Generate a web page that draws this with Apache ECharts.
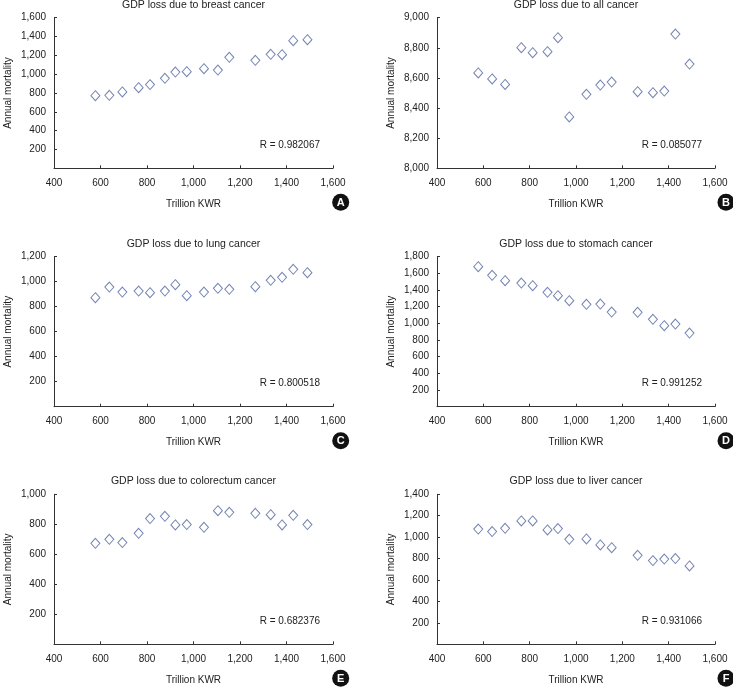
<!DOCTYPE html>
<html>
<head>
<meta charset="utf-8">
<script src="https://cdn.jsdelivr.net/npm/echarts@6/dist/echarts.min.js"></script>
<style>html,body{margin:0;padding:0;background:#fff;}#c{width:733px;height:688px;}</style>
</head>
<body>
<div id="c"></div>
<script>
var gdp = [578, 638, 694, 764, 813, 877, 922, 971, 1045, 1105, 1154, 1266, 1332, 1381, 1429, 1490];
var breast = [772, 775, 811, 857, 889, 956, 1023, 1027, 1058, 1044, 1179, 1147, 1211, 1207, 1356, 1366];
var allCancer = [8633, 8593, 8557, 8801, 8768, 8774, 8867, 8341, 8491, 8553, 8573, 8509, 8502, 8513, 8891, 8692];
var lung = [872, 957, 917, 925, 912, 925, 976, 888, 917, 947, 939, 960, 1011, 1035, 1099, 1072];
var stomach = [1680, 1576, 1512, 1484, 1452, 1372, 1332, 1272, 1228, 1232, 1136, 1132, 1048, 972, 992, 884];
var colorectum = [673, 700, 678, 740, 838, 853, 796, 798, 780, 891, 880, 873, 864, 796, 860, 798];
var liver = [1076, 1052, 1083, 1151, 1151, 1067, 1080, 980, 983, 927, 902, 831, 781, 796, 800, 731];

var titles = ['GDP loss due to breast cancer', 'GDP loss due to all cancer', 'GDP loss due to lung cancer',
  'GDP loss due to stomach cancer', 'GDP loss due to colorectum cancer', 'GDP loss due to liver cancer'];
var rValues = ['R = 0.982067', 'R = 0.085077', 'R = 0.800518', 'R = 0.991252', 'R = 0.682376', 'R = 0.931066'];
var letters = ['A', 'B', 'C', 'D', 'E', 'F'];
var yMins = [0, 8000, 0, 0, 0, 0];
var yMaxs = [1600, 9000, 1200, 1800, 1000, 1400];
var xTicks = [400, 1600, 200];
var seriesData = [breast, allCancer, lung, stomach, colorectum, liver];

var grids = [
  {left: 54, top: 17.7, width: 279, height: 150.6},
  {left: 437, top: 17.7, width: 278, height: 150.6},
  {left: 54, top: 256.7, width: 279, height: 150},
  {left: 437, top: 256.7, width: 278, height: 150},
  {left: 54, top: 494.3, width: 279, height: 150},
  {left: 437, top: 494.3, width: 278, height: 150}
];

var txt = '#222222';
var axisCol = '#333333';
var fnt = 'Liberation Sans, Arial, sans-serif';
function fmt(v){ return Number(v).toLocaleString('en-US'); }

var option = {
  animation: false,
  backgroundColor: '#fff',
  title: [], grid: [], xAxis: [], yAxis: [], series: [], graphic: []
};

for (var i = 0; i < 6; i++) {
  var g = grids[i];
  option.grid.push({left: g.left, top: g.top, width: g.width, height: g.height});
  option.graphic.push({
    type: 'text', x: g.left + g.width / 2, y: g.top - 13,
    style: {text: titles[i], fontSize: 10.5, fill: txt, fontFamily: fnt, align: 'center', verticalAlign: 'middle'}
  });
  option.xAxis.push({
    type: 'value', gridIndex: i, min: xTicks[0], max: xTicks[1], interval: xTicks[2],
    name: 'Trillion KWR', nameLocation: 'middle', nameGap: 31,
    nameTextStyle: {fontSize: 10, color: txt, fontFamily: fnt},
    axisLine: {show: true, lineStyle: {color: axisCol, width: 1}},
    axisTick: {show: true, inside: true, length: 3, lineStyle: {color: axisCol}},
    axisLabel: {fontSize: 10, color: txt, fontFamily: fnt, margin: 10, formatter: fmt, showMinLabel: true, showMaxLabel: true},
    splitLine: {show: false}
  });
  option.yAxis.push({
    type: 'value', gridIndex: i, min: yMins[i], max: yMaxs[i], interval: 200,
    name: 'Annual mortality', nameLocation: 'middle', nameGap: 41,
    nameTextStyle: {fontSize: 10, color: txt, fontFamily: fnt},
    axisLine: {show: true, lineStyle: {color: axisCol, width: 1}},
    axisTick: {show: true, inside: true, length: 3, lineStyle: {color: axisCol}},
    axisLabel: {fontSize: 10, color: txt, fontFamily: fnt, margin: 8,
      formatter: function(v){ return (v === 0) ? '' : fmt(v); }},
    splitLine: {show: false}
  });
  var d = [];
  for (var k = 0; k < gdp.length; k++) d.push([gdp[k], seriesData[i][k]]);
  option.series.push({
    type: 'scatter', xAxisIndex: i, yAxisIndex: i, data: d,
    symbol: 'diamond', symbolSize: [9, 10],
    itemStyle: {color: '#ffffff', borderColor: '#52669f', borderWidth: 1},
    silent: true
  });
  option.graphic.push({
    type: 'text', x: g.left + g.width - 13, y: g.top + g.height - 23.5,
    style: {text: rValues[i], fontSize: 10, fill: txt, fontFamily: fnt, align: 'right', verticalAlign: 'middle'}
  });
  option.graphic.push({
    type: 'circle', shape: {cx: g.left + g.width + (i % 2 === 0 ? 7.7 : 11), cy: g.top + g.height + 34, r: 8.5},
    style: {fill: '#111'}
  });
  option.graphic.push({
    type: 'text', x: g.left + g.width + (i % 2 === 0 ? 7.7 : 11), y: g.top + g.height + 34.5,
    style: {text: letters[i], fontSize: 11, fontWeight: 'bold', fill: '#fff', fontFamily: fnt, align: 'center', verticalAlign: 'middle'}
  });
}

var chart = echarts.init(document.getElementById('c'), null, {renderer: 'canvas'});
chart.setOption(option);
</script>
</body>
</html>
